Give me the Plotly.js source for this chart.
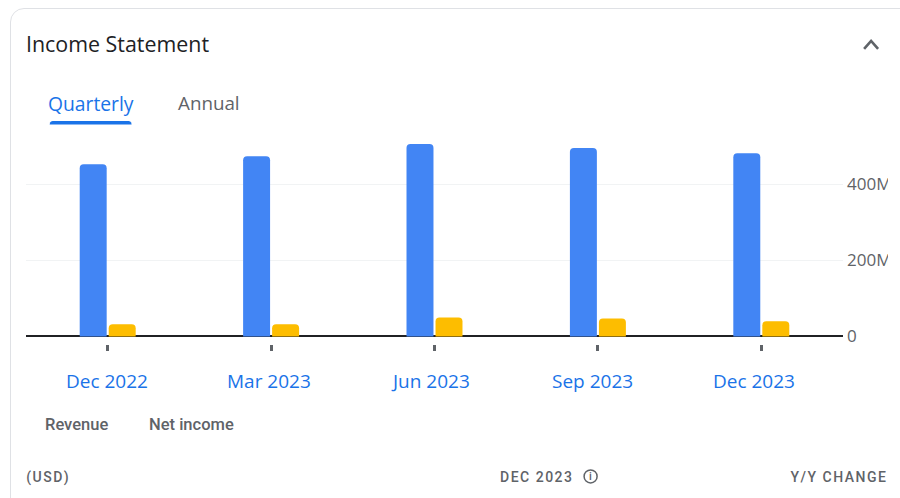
<!DOCTYPE html>
<html><head><meta charset="utf-8">
<script src="https://cdn.plot.ly/plotly-3.0.1.min.js"></script>
<style>
html,body{margin:0;padding:0;background:#fff;width:900px;height:498px;overflow:hidden}
#card{position:absolute;left:10px;top:8px;width:1000px;height:1000px;box-sizing:border-box;border:1.5px solid #dfe1e5;border-radius:14px;background:#fff}
#chart{position:absolute;left:0;top:0;width:888px;height:498px}
</style></head><body>
<div id="card"></div><div id="chart"></div>
<script>
var quarters = ['Dec 2022','Mar 2023','Jun 2023','Sep 2023','Dec 2023'];
var revenue = [452, 473, 505, 495, 481];
var netIncome = [32, 32, 50, 47, 40];
var yTicks = [0, 200, 400];
var yTickLabels = ['0', '200M', '400M'];
var W = 888, H = 498, L = 26.4, R = 843.4, T = 139.4, B = 343.9;
function ax(px){return (px-L)/(R-L);}
function ay(py){return (B-py)/(B-T);}
function note(text,px,py,anchor,size,color,family,weight){
  return {text:text,xref:'paper',yref:'paper',x:ax(px),y:ay(py),xanchor:anchor,yanchor:'middle',showarrow:false,borderpad:0,
    font:{size:size,color:color,family:family,weight:weight||400}};
}
var rob='Roboto, sans-serif', ui='"Open Sans", Roboto, sans-serif';
var data=[
 {type:'bar',name:'Revenue',x:quarters,y:revenue,marker:{color:'#4285f4'},hoverinfo:'none'},
 {type:'bar',name:'Net income',x:quarters,y:netIncome,marker:{color:'#fdbd00'},hoverinfo:'none'}
];
var quarterNotes = quarters.map(function(q,i){
  return {text:q,xref:'x',yref:'paper',x:i,y:ay(381),xanchor:'center',yanchor:'middle',showarrow:false,borderpad:0,
    xshift:-1-1.6*i,font:{size:19,color:'#1a73e8',family:ui}};
});
var layout={
 width:W,height:H,showlegend:false,barmode:'group',bargap:0.645,bargroupgap:0.07,barcornerradius:4,
 paper_bgcolor:'rgba(0,0,0,0)',plot_bgcolor:'rgba(0,0,0,0)',
 margin:{l:L,r:W-R,t:T,b:H-B,pad:0,autoexpand:false},
 xaxis:{type:'category',showgrid:false,zeroline:false,showline:false,ticks:'outside',ticklen:6,tickwidth:3,tickcolor:'#5f6368',
   showticklabels:false,fixedrange:true},
 yaxis:{side:'right',range:[-19.7,518.4],tickvals:yTicks,ticktext:yTickLabels,showgrid:true,gridcolor:'#f1f3f4',gridwidth:1,
   zeroline:true,zerolinecolor:'#202124',zerolinewidth:2,showline:false,ticks:'',ticklabelstandoff:3,tickfont:{family:ui,size:17,color:'#5f6368'},fixedrange:true},
 annotations:quarterNotes.concat([
  note('Income Statement',25,44,'left',21.4,'#202124',ui),
  note('Quarterly',47,103.5,'left',19.3,'#1a73e8',ui),
  note('Annual',177,103.5,'left',18.8,'#5f6368',ui),
  note('Revenue',44,424,'left',16.5,'#5f6368',rob,500),
  note('Net income',148,424,'left',16.5,'#5f6368',rob,500),
  note('(USD)',29,477,'left',14,'#5f6368',rob,500),
  note('DEC 2023',505.5,477,'left',14,'#5f6368',rob,500),
  note('i',591,476.5,'center',11,'#5f6368',rob,500),
  note('Y/Y CHANGE',881,477,'right',14,'#5f6368',rob,500)
 ]),
 shapes:[
  {type:'path',xref:'paper',yref:'paper',layer:'above',fillcolor:'#1a73e8',line:{width:0},
   path:'M'+ax(50)+','+ay(125)+' L'+ax(50.5)+','+ay(123)+' Q'+ax(51)+','+ay(121.5)+' '+ax(53)+','+ay(121.5)+' L'+ax(129)+','+ay(121.5)+' Q'+ax(131)+','+ay(121.5)+' '+ax(131.5)+','+ay(123)+' L'+ax(132)+','+ay(125)+' Z'},
  {type:'circle',xref:'paper',yref:'paper',x0:ax(584.5),x1:ax(597.5),y0:ay(482.5),y1:ay(469.5),line:{color:'#5f6368',width:1.5},fillcolor:'rgba(0,0,0,0)'},
  {type:'path',xref:'paper',yref:'paper',line:{color:'#5f6368',width:2.6},
   path:'M'+ax(864.5)+','+ay(49.5)+' L'+ax(871.5)+','+ay(41.5)+' L'+ax(878.5)+','+ay(49.5)}
 ]
};
Plotly.newPlot('chart',data,layout,{displayModeBar:false,staticPlot:true}).then(function(){
  document.querySelectorAll('.annotation-text').forEach(function(t){
    if(['(USD)','DEC 2023','Y/Y CHANGE'].indexOf(t.textContent)>=0){t.style.letterSpacing='1.5px';}
  });
});
</script></body></html>
